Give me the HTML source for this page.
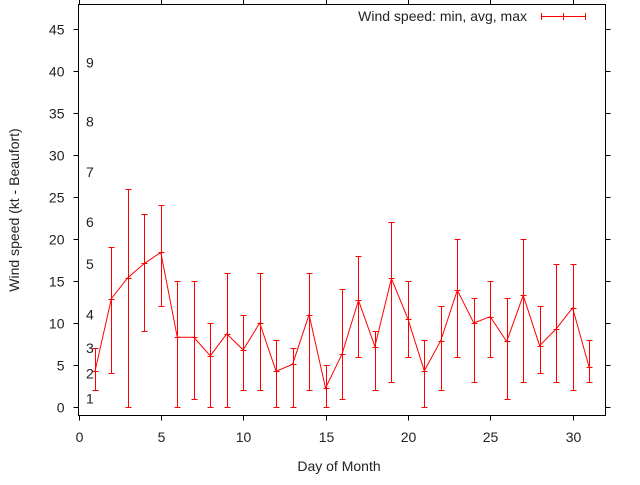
<!DOCTYPE html>
<html><head><meta charset="utf-8"><style>
body{margin:0;background:#fff;}
svg text{font-family:"Liberation Sans",sans-serif;font-size:14px;fill:#222;}
</style></head><body>
<svg id="chart" width="640" height="480" xmlns="http://www.w3.org/2000/svg">
<g id="axes"></g>
<g id="bft"></g>
<g id="series"></g>
<text transform="translate(19,210) rotate(-90)" text-anchor="middle">Wind speed (kt - Beaufort)</text>
<text x="339" y="471" text-anchor="middle">Day of Month</text>
<g>
<text x="527" y="21" text-anchor="end">Wind speed: min, avg, max</text>
<g stroke="red" stroke-width="1">
<line x1="541" y1="16.5" x2="585" y2="16.5"/><line x1="541.5" y1="13" x2="541.5" y2="20"/><line x1="585.5" y1="13" x2="585.5" y2="20"/><line x1="563.5" y1="13" x2="563.5" y2="20"/>
</g></g>
</svg>
<script>
const days=[1,2,3,4,5,6,7,8,9,10,11,12,13,14,15,16,17,18,19,20,21,22,23,24,25,26,27,28,29,30,31];
const avgs=[4.25,12.9,15.4,17.1,18.4,8.3,8.3,6.1,8.7,6.8,10.0,4.25,5.1,11.0,2.25,6.3,12.7,7.2,15.3,10.5,4.3,7.9,13.9,10.0,10.75,7.8,13.3,7.3,9.3,11.8,4.8];
const mins=[2,4,0,9,12,0,1,0,0,2,2,0,0,2,0,1,6,2,3,6,0,2,6,3,6,1,3,4,3,2,3];
const maxs=[7,19,26,23,24,15,15,10,16,11,16,8,7,16,5,14,18,9,22,15,8,12,20,13,15,13,20,12,17,17,8];
const yTicks=[0,5,10,15,20,25,30,35,40,45];
const xTicks=[0,5,10,15,20,25,30];
const bftLabels=["1","2","3","4","5","6","7","8","9"];
const bftValues=[1,4,7,11,17,22,28,34,41];
const NS="http://www.w3.org/2000/svg";
const L=78.5,R=605.5,T=4.5,B=415.5;
const X=v=>L+(v-0)*(R-L)/32;
const Y=v=>407-v*8.4;
function mk(tag,attrs,parent){const e=document.createElementNS(NS,tag);for(const k in attrs)e.setAttribute(k,attrs[k]);parent.appendChild(e);return e;}
const axes=document.getElementById('axes');
const fr=mk('rect',{x:L,y:T,width:R-L,height:B-T,fill:'none',stroke:'#000','stroke-width':1},axes);


yTicks.forEach(v=>{const y=Math.round(Y(v))+0.5;
 mk('line',{x1:L-5,y1:y,x2:L,y2:y,stroke:'#000'},axes);
 mk('line',{x1:R,y1:y,x2:R+5,y2:y,stroke:'#000'},axes);
 const t=mk('text',{x:L-14,y:y+5,'text-anchor':'end'},axes);t.textContent=v;
 
 });
xTicks.forEach(v=>{const x=Math.round(X(v))+0.5;
 mk('line',{x1:x,y1:B,x2:x,y2:B+5,stroke:'#000'},axes);
 mk('line',{x1:x,y1:T-5,x2:x,y2:T,stroke:'#000'},axes);
 const t=mk('text',{x:x,y:442,'text-anchor':'middle'},axes);t.textContent=v;
 
 });
const bft=document.getElementById('bft');
bftLabels.forEach((s,i)=>{const t=mk('text',{x:86,y:Y(bftValues[i])+5},bft);t.textContent=s;
 
 });
const g=document.getElementById('series');
const pts=days.map((d,i)=>X(d).toFixed(1)+','+Y(avgs[i]).toFixed(1)).join(' ');
const pl=mk('polyline',{points:pts,fill:'none',stroke:'red','stroke-width':1},g);


days.forEach((d,i)=>{const x=Math.round(X(d))+0.5;
 const eb=mk('g',{stroke:'red','stroke-width':1},g);
 
 
 const y1=Math.round(Y(mins[i]))+0.5,y2=Math.round(Y(maxs[i]))+0.5,ya=Math.round(Y(avgs[i]))+0.5;
 mk('line',{x1:x,y1:y1,x2:x,y2:y2},eb);
 mk('line',{x1:x-3,y1:y1,x2:x+3,y2:y1},eb);
 mk('line',{x1:x-3,y1:y2,x2:x+3,y2:y2},eb);
 mk('line',{x1:x-3,y1:ya,x2:x+3,y2:ya},eb);});
</script>
</body></html>
